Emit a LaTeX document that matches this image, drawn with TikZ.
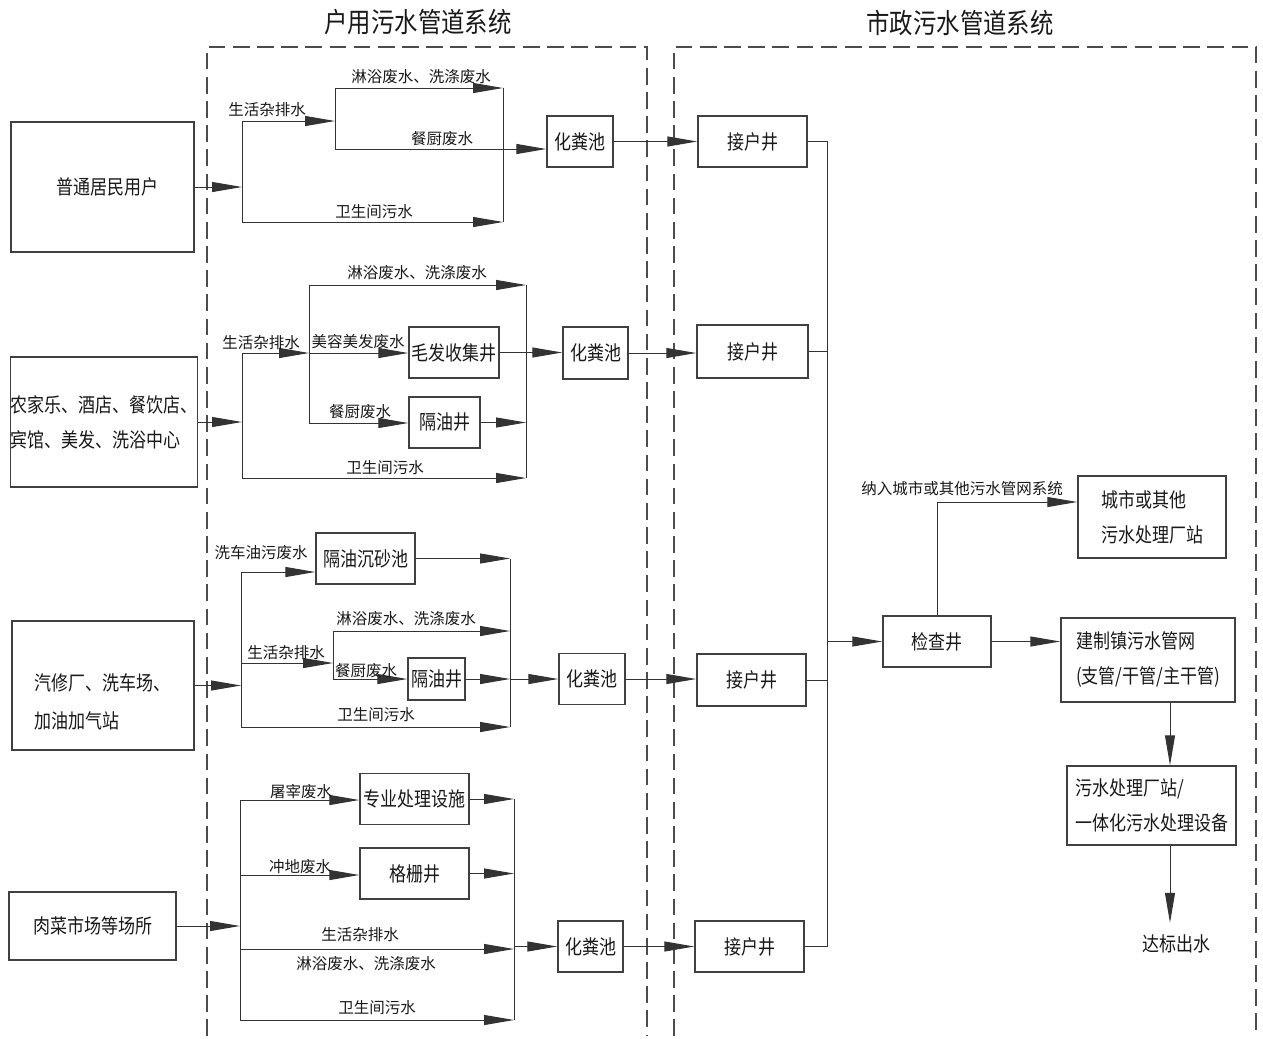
\documentclass[tikz,border=0pt]{standalone}
\usepackage{fontspec}
\newfontfamily\cjkn[FakeStretch=0.85]{Noto Sans CJK SC}
\newfontfamily\cjkl{Noto Sans CJK SC}
\usetikzlibrary{arrows.meta}
\newcommand\mynf{\cjkn\fontsize{12pt}{21pt}\selectfont}
\newcommand\mylf{\cjkl\fontsize{9.3pt}{12pt}\selectfont}
\newcommand\mytf{\cjkn\fontsize{16.5pt}{20pt}\selectfont}
\begin{document}
\begin{tikzpicture}[x=0.6pt,y=-0.6pt,
  box/.style={draw=black!75, line width=0.9pt, inner sep=0pt, font=\mynf, text=black!90},
  sz/.style 2 args={minimum width=#1*0.6pt, minimum height=#2*0.6pt},
  lbl/.style={inner sep=0pt, font=\mylf, text=black!90},
  txt/.style={inner sep=0pt, font=\mynf, text=black!90},
  ln/.style={draw=black!80, line width=0.6pt},
  arr/.style={ln, -{Triangle[length=18pt,width=6pt]}},
  dashframe/.style={draw=black!70, line width=0.7pt, dash pattern=on 10pt off 4.5pt}
]
\useasboundingbox[fill=white] (0,0) rectangle (1263,1039);

% titles and frames
\node[txt, font=\mytf] (t1) at (418,22) {户用污水管道系统};
\node[txt, font=\mytf] (t2) at (960,23) {市政污水管道系统};
\draw[dashframe] (207,1036) -- (207,47) -- (647,47) -- (647,1036);
\draw[dashframe] (674,1036) -- (674,47) -- (1256,47) -- (1256,1036);

% ---------- section 1 ----------
\node[box, sz={183}{130}] (S1) at (102.5,187) {\hspace*{6pt}普通居民用户};
\node[box, sz={66}{51}] (H1) at (580,141.5) {化粪池};
\node[box, sz={109}{51}] (J1) at (752.5,141.5) {接户井};
\coordinate (v1t) at (242,121); \coordinate (v1b) at (242,222);
\coordinate (v2t) at (335,88); \coordinate (v2m) at (335,121); \coordinate (v2b) at (335,149);
\coordinate (c1t) at (503,88); \coordinate (c1b) at (503,222);
\draw[arr] (S1) -- (S1 -| v1t);
\draw[ln] (v1t) -- (v1b);
\draw[arr] (v1t) -- (v2m);
\draw[ln] (v2t) -- (v2b);
\draw[arr] (v2t) -- (c1t);
\draw[arr] (v2b) -- (v2b -| H1.west);
\draw[arr] (v1b) -- (c1b);
\draw[ln] (c1t) -- (c1b);
\draw[arr] (H1.east) -- (J1.west);
\node[lbl] (l11) at (267,110) {生活杂排水};
\node[lbl] (l12) at (421,77) {淋浴废水、洗涤废水};
\node[lbl] (l13) at (442,139) {餐厨废水};
\node[lbl] (l14) at (374,212) {卫生间污水};

% ---------- section 2 ----------
\node[box, sz={182}{130}, align=left] (S2) at (104,422) {农家乐、酒店、餐饮店、\\宾馆、美发、洗浴中心};
\node[box, sz={90}{51}] (M2) at (454,352.5) {毛发收集井};
\node[box, sz={71}{51}] (G2) at (444.5,422.5) {隔油井};
\node[box, sz={65}{52}] (H2) at (595.5,353) {化粪池};
\node[box, sz={111}{53}] (J2) at (752.5,351.5) {接户井};
\coordinate (v3t) at (242,353); \coordinate (v3b) at (242,478);
\coordinate (v4t) at (309,285); \coordinate (v4m) at (309,353); \coordinate (v4b) at (309,423);
\coordinate (c2t) at (526,285); \coordinate (c2b) at (526,478);
\draw[arr] (S2) -- (S2 -| v3t);
\draw[ln] (v3t) -- (v3b);
\draw[arr] (v3t) -- (v4m);
\draw[ln] (v4t) -- (v4b);
\draw[arr] (v4t) -- (c2t);
\draw[arr] (v4m) -- (v4m -| M2.west);
\draw[arr] (v4b) -- (v4b -| G2.west);
\draw[arr] (G2.east) -- (G2.east -| c2t);
\draw[arr] (v3b) -- (c2b);
\draw[ln] (c2t) -- (c2b);
\draw[arr] (M2.east) -- (M2.east -| H2.west);
\draw[arr] (H2.east) -- (H2.east -| J2.west);
\node[lbl] (l21) at (261,343) {生活杂排水};
\node[lbl] (l22) at (417,273) {淋浴废水、洗涤废水};
\node[lbl] (l23) at (358,342) {美容美发废水};
\node[lbl] (l24) at (360,412) {餐厨废水};
\node[lbl] (l25) at (385,468) {卫生间污水};

% ---------- section 3 ----------
\node[box, sz={182}{129}] (S3) at (103,685.5) {};
\node[txt, align=left] (S3t) at (102,702) {汽修厂、洗车场、\\[1.8pt]加油加气站};
\node[box, sz={99}{51}] (P3) at (365.5,558.5) {隔油沉砂池};
\node[box, sz={57}{42}] (G3) at (436.5,679) {隔油井};
\node[box, sz={66}{51}] (H3) at (592,679) {化粪池};
\node[box, sz={109}{52}] (J3) at (751.5,680) {接户井};
\coordinate (v5t) at (241,572); \coordinate (v5m) at (241,663); \coordinate (v5b) at (241,727);
\coordinate (v6t) at (333,631); \coordinate (v6m) at (333,663); \coordinate (v6b) at (333,679);
\coordinate (c3b) at (510,727);
\draw[arr] (S3) -- (S3 -| v5t);
\draw[ln] (v5t) -- (v5b);
\draw[arr] (v5t) -- (v5t -| P3.west);
\draw[arr] (P3.east) -- (P3.east -| c3b);
\draw[arr] (v5m) -- (v6m);
\draw[ln] (v6t) -- (v6b);
\draw[arr] (v6t) -- (v6t -| c3b);
\draw[arr] (v6b) -- (v6b -| G3.west);
\draw[arr] (G3.east) -- (G3.east -| c3b);
\draw[arr] (v5b) -- (c3b);
\draw[ln] (P3.east -| c3b) -- (c3b);
\draw[arr] (H3.west -| c3b) -- (H3.west);
\draw[arr] (H3.east) -- (H3.east -| J3.west);
\node[lbl] (l31) at (261,553) {洗车油污废水};
\node[lbl] (l32) at (286,653) {生活杂排水};
\node[lbl] (l33) at (406,619) {淋浴废水、洗涤废水};
\node[lbl] (l34) at (366,671) {餐厨废水};
\node[lbl] (l35) at (376,715) {卫生间污水};

% ---------- section 4 ----------
\node[box, sz={167}{68}] (S4) at (92.5,926) {肉菜市场等场所};
\node[box, sz={109}{51}] (Q4) at (414.5,799) {专业处理设施};
\node[box, sz={109}{51}] (R4) at (414.5,873.5) {格栅井};
\node[box, sz={65}{51}] (H4) at (590.5,946.5) {化粪池};
\node[box, sz={109}{51}] (J4) at (749.5,946.5) {接户井};
\coordinate (v7t) at (240,800); \coordinate (v7g) at (240,875);
\coordinate (v7h) at (240,949); \coordinate (v7b) at (240,1020);
\coordinate (c4b) at (514,1020);
\draw[arr] (S4) -- (S4 -| v7t);
\draw[ln] (v7t) -- (v7b);
\draw[arr] (v7t) -- (v7t -| Q4.west);
\draw[arr] (Q4.east) -- (Q4.east -| c4b);
\draw[arr] (v7g) -- (v7g -| R4.west);
\draw[arr] (R4.east) -- (R4.east -| c4b);
\draw[arr] (v7h) -- (v7h -| c4b);
\draw[arr] (v7b) -- (c4b);
\draw[ln] (Q4.east -| c4b) -- (c4b);
\draw[arr] (H4.west -| c4b) -- (H4.west);
\draw[arr] (H4.east) -- (H4.east -| J4.west);
\node[lbl] (l41) at (301,792) {屠宰废水};
\node[lbl] (l42) at (300,867) {冲地废水};
\node[lbl] (l43) at (360,935) {生活杂排水};
\node[lbl] (l44) at (366,964) {淋浴废水、洗涤废水};
\node[lbl] (l45) at (377,1008) {卫生间污水};

% ---------- municipal ----------
\node[box, sz={108}{51}] (K) at (937,641.5) {检查井};
\node[box, sz={148}{82}, align=left] (C) at (1152,517) {城市或其他\\污水处理厂站};
\node[box, sz={174}{84}, align=left] (T) at (1148,660) {建制镇污水管网\\(支管/干管/主干管)};
\node[box, sz={169}{79}, align=left] (W) at (1151.5,805.5) {污水处理厂站/\\一体化污水处理设备};
\node[txt, inner ysep=7pt] (D) at (1176,944) {达标出水};
\coordinate (bt) at (827,141.5); \coordinate (bb) at (827,946.5);
\coordinate (tx) at (1170,700);
\draw[ln] (J1.east) -- (bt) -- (bb) -- (J4.east);
\draw[ln] (J2.east) -- (J2.east -| bt);
\draw[ln] (J3.east) -- (J3.east -| bt);
\draw[arr] (K.west -| bt) -- (K.west);
\draw[arr] (K.east) -- (K.east -| T.west);
\draw[arr] (K.north) |- ([yshift=9pt]C.west);
\node[lbl] (nl) at (962,489) {纳入城市或其他污水管网系统};
\draw[arr] (T.south -| tx) -- (W.north -| tx);
\draw[arr] (W.south -| tx) -- (D.north -| tx);
\end{tikzpicture}
\end{document}
